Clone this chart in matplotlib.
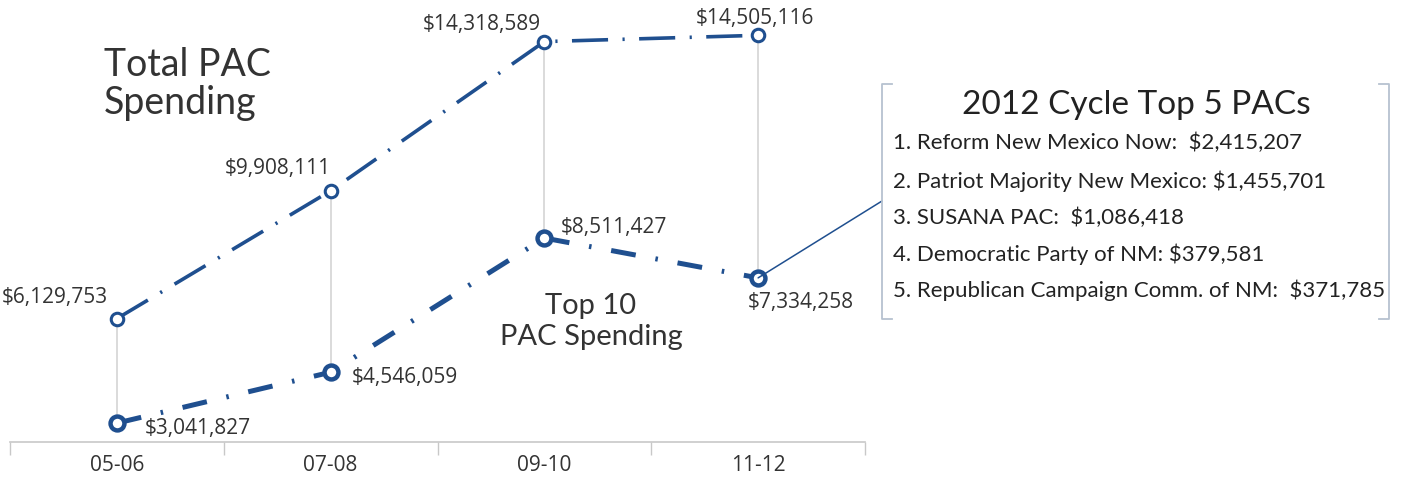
import matplotlib
matplotlib.use("Agg")
import matplotlib.pyplot as plt
from matplotlib.lines import Line2D
from matplotlib.patches import ConnectionPatch

categories = ["05-06", "07-08", "09-10", "11-12"]
total_pac = [6129753, 9908111, 14318589, 14505116]
top10_pac = [3041827, 4546059, 8511427, 7334258]
top5_title = "2012 Cycle Top 5 PACs"
top5_lines = [
    "1. Reform New Mexico Now:  $2,415,207",
    "2. Patriot Majority New Mexico: $1,455,701",
    "3. SUSANA PAC:  $1,086,418",
    "4. Democratic Party of NM: $379,581",
    "5. Republican Campaign Comm. of NM:  $371,785",
]

W, H = 1401, 489
BLUE = "#1f4f8f"
TXT = "#333333"
NUMFONT = "Open Sans"
TITLEFONT = "Lato"

fig = plt.figure(figsize=(W / 100, H / 100), dpi=100)
fig.patch.set_facecolor("white")

def fx(px):
    return px / W

def fy(py):
    return 1 - py / H

ax = fig.add_axes([fx(10), fy(443), fx(865) - fx(10), fy(0) - fy(443)])
ax.set_xlim(-0.5, 3.5)
ax.set_ylim(2.483e6, 15.578e6)
for s in ["top", "right", "left"]:
    ax.spines[s].set_visible(False)
ax.spines["bottom"].set_color("#c8c8c8")
ax.spines["bottom"].set_linewidth(1.2)
ax.set_yticks([])
x = list(range(len(categories)))
ax.set_xticks(x)
ax.set_xticklabels(categories, fontsize=15, color=TXT, family=NUMFONT)
ax.tick_params(axis="x", which="major", length=0, pad=9)
ax.set_xticks([-0.5, 0.5, 1.5, 2.5, 3.5], minor=True)
ax.tick_params(axis="x", which="minor", length=9, color="#c8c8c8", width=1)

# vertical connectors
ax.vlines(x, top10_pac, total_pac, color="#d4d4d4", lw=1.2, zorder=1)

ax.plot(x, total_pac, color=BLUE, lw=2.6, linestyle=(0, (10, 4, 0.6, 4)),
        marker="o", markersize=9, markerfacecolor="white",
        markeredgecolor=BLUE, markeredgewidth=2.2, zorder=3)
ax.plot(x, top10_pac, color=BLUE, lw=3.6, linestyle=(0, (5, 4, 0.5, 4)),
        marker="o", markersize=10, markerfacecolor="white",
        markeredgecolor=BLUE, markeredgewidth=3.2, zorder=3)

def money(v):
    return "${:,}".format(v)

NUMSIZE = 15
# total labels (offsets in pixels, y up)
tot_off = [(-9, 22, "right"), (0, 23, "right"), (-4, 18, "right"), (-3, 18, "center")]
for i, v in enumerate(total_pac):
    dx, dy, ha = tot_off[i]
    ax.annotate(money(v), (i, v), xytext=(dx, dy), textcoords="offset pixels",
                ha=ha, va="center", fontsize=NUMSIZE, color=TXT, family=NUMFONT)
top_off = [(28, -4, "left"), (21, -4, "left"), (16, 12, "left"), (-10, -24, "left")]
for i, v in enumerate(top10_pac):
    dx, dy, ha = top_off[i]
    ax.annotate(money(v), (i, v), xytext=(dx, dy), textcoords="offset pixels",
                ha=ha, va="center", fontsize=NUMSIZE, color=TXT, family=NUMFONT)

fig.text(fx(104), fy(76), "Total PAC", fontsize=27, color=TXT,
         family=TITLEFONT, ha="left", va="baseline")
fig.text(fx(104), fy(114), "Spending", fontsize=27, color=TXT,
         family=TITLEFONT, ha="left", va="baseline")
fig.text(fx(591), fy(314), "Top 10", fontsize=21, color=TXT,
         family=TITLEFONT, ha="center", va="baseline")
fig.text(fx(591), fy(345), "PAC Spending", fontsize=21, color=TXT,
         family=TITLEFONT, ha="center", va="baseline")

# bracket box
bc = "#b6c2d0"
L, R, T, B = 882, 1389, 85, 320
for xs, ys in [([L + 10, L, L, L + 10], [T, T, B, B]),
               ([R - 10, R, R, R - 10], [T, T, B, B])]:
    fig.add_artist(Line2D([fx(v) for v in xs], [fy(v) for v in ys],
                          color=bc, lw=1.3))

fig.text(fx(1136), fy(105), top5_title, fontsize=24, color="#222222",
         family=TITLEFONT, ha="center", va="center")
line_y = [143, 181, 218, 254, 290]
for yy, t in zip(line_y, top5_lines):
    fig.text(fx(893), fy(yy), t, fontsize=16, color="#222222",
             family=TITLEFONT, ha="left", va="center")

con = ConnectionPatch(xyA=(3, top10_pac[3]), coordsA=ax.transData,
                      xyB=(fx(L), fy(202)), coordsB=fig.transFigure,
                      color=BLUE, lw=1.1)
fig.add_artist(con)

fig.savefig("out.png", dpi=100)
